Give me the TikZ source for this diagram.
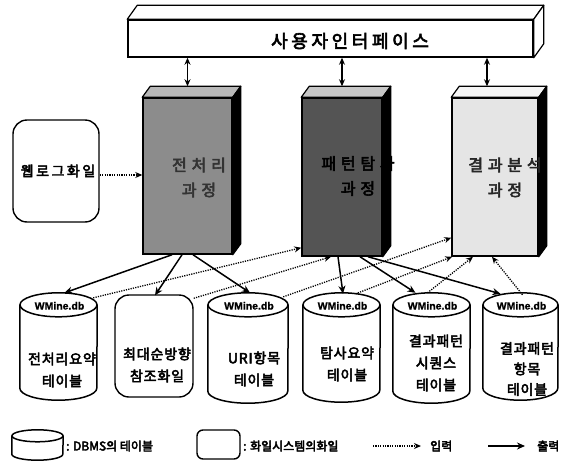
\documentclass[tikz,border=0pt]{standalone}
\usepackage{fontspec}
\setmainfont{Noto Sans CJK KR}[FakeBold=3.5]
\newfontfamily\dbfont{Liberation Sans}[FakeBold=1]
\usetikzlibrary{arrows.meta,calc}
\definecolor{fillA}{gray}{0.55}
\definecolor{fillB}{gray}{0.33}
\definecolor{fillC}{gray}{0.9}
\definecolor{topA}{gray}{0.72}
\definecolor{topB}{gray}{0.78}
\definecolor{topC}{gray}{0.96}

% cylinder: name, cx, cy, width, height, ellipse y-radius
\newcommand\mkcyl[6]{%
  \node[cylnode, minimum width=#4pt, minimum height=#5pt] (#1) at (#2,#3) {};
  \fill[white] ($(#1.north west)+(0,#6)$) -- ($(#1.south west)+(0,-#6)$)
     arc[start angle=180,end angle=0,x radius=#4/2,y radius=#6]
     -- ($(#1.north east)+(0,#6)$) -- cycle;
  \draw[cylline] ($(#1.north west)+(0,#6)$) -- ($(#1.south west)+(0,-#6)$)
     arc[start angle=180,end angle=0,x radius=#4/2,y radius=#6]
     -- ($(#1.north east)+(0,#6)$);
  \draw[cylline] ($(#1.north)+(0,#6)$) ellipse[x radius=#4/2,y radius=#6];
}
% 3D process box: name, cx, cy, width, height, front fill, top fill
\newcommand\mkbox[7]{%
  \node[procbox, fill=#6, minimum width=#4pt, minimum height=#5pt] (#1) at (#2,#3) {};
  \filldraw[boxedge, fill=#7] (#1.north west) -- ++(8,-11) -- ($(#1.north east)+(8,-11)$) -- (#1.north east) -- cycle;
  \filldraw[boxedge, fill=black] (#1.north east) -- ++(8,-11) -- ($(#1.south east)+(8,-11)$) -- (#1.south east) -- cycle;
}

\begin{document}
\begin{tikzpicture}[x=1pt,y=-1pt,
  procbox/.style={draw=black, line width=1.5pt, inner sep=0pt},
  boxedge/.style={draw=black, line width=1.2pt, line join=round},
  cylnode/.style={inner sep=0pt, draw=none},
  cylline/.style={draw=black, line width=1.5pt},
  filebox/.style={draw=black, line width=1.4pt, rounded corners=14pt, fill=white, inner sep=0pt},
  lbl/.style={align=center, inner sep=0pt, font=\fontsize{14}{22}\selectfont\addfontfeatures{LetterSpace=6}},
  boxlbl/.style={align=center, inner sep=0pt, font=\fontsize{16}{25}\selectfont\addfontfeatures{LetterSpace=30}},
  dblbl/.style={inner sep=0pt, font=\dbfont\bfseries\fontsize{10.5}{12}\selectfont},
  outarrow/.style={line width=1.5pt, -{Stealth[length=8pt,width=7pt]}},
  inarrow/.style={line width=1.3pt, dash pattern=on 1.2pt off 1.2pt, -{Stealth[length=7pt,width=6pt]}},
  biarrow/.style={line width=1.4pt, {Stealth[length=7pt,width=6pt]}-{Stealth[length=7pt,width=6pt]}},
  legtext/.style={anchor=west, inner sep=0pt, font=\fontsize{12}{14}\selectfont}
]
\useasboundingbox (0,0) rectangle (574,469);

% user interface bar
\node[procbox, fill=white, minimum width=405pt, minimum height=37pt] (ui) at (330.5,38.5) {};
\filldraw[boxedge, fill=white] (ui.north west) -- ++(10,-14) -- ($(ui.north east)+(10,-14)$) -- (ui.north east) -- cycle;
\filldraw[boxedge, fill=white] (ui.north east) -- ++(10,-14) -- ($(ui.south east)+(10,-14)$) -- (ui.south east) -- cycle;
\node[font=\fontsize{18}{20}\selectfont\addfontfeatures{LetterSpace=20}] (uit) at (350,41) {사용자인터페이스};

% process boxes
\mkbox{b1}{187.5}{176}{89}{156}{fillA}{topA}
\mkbox{b2}{342}{177}{80}{158}{fillB}{topB}
\mkbox{b3}{495}{177}{86}{158}{fillC}{topC}
\node[boxlbl, text=black!80] (b1t) at (199,177.5) {전처리\\과정};
\node[boxlbl, text=black] (b2t) at (358,176) {패턴탐사\\과정};
\node[boxlbl, text=black!85] (b3t) at (505,177.5) {결과분석\\과정};

% bar <-> boxes
\draw[biarrow] ($(b1.north)+(0,-11)$) -- (ui.south -| b1.north);
\draw[biarrow] ($(b2.north)+(0,-11)$) -- (ui.south -| b2.north);
\draw[biarrow] ($(b3.north)+(-8,-11)$) -- ($(ui.south -| b3.north)+(-8,0)$);

% web log file
\node[filebox, minimum width=86pt, minimum height=102pt] (wl) at (56,171) {};
\node[font=\fontsize{14}{16}\selectfont\addfontfeatures{LetterSpace=18}] (wlt) at (58,171) {웹로그화일};
\draw[inarrow] ($(wl.east)+(0,4)$) -- ($(wl.east -| b1.west)+(0,4)$);

% tables and files
\mkcyl{c1}{58.5}{346.5}{77}{107}{12}
\node[filebox, minimum width=78pt, minimum height=102pt] (r2) at (154,346) {};
\mkcyl{c3}{248}{348}{80}{110}{12}
\mkcyl{c4}{341.5}{347.5}{77}{109}{12}
\mkcyl{c5}{431.5}{348}{77}{110}{12}
\mkcyl{c6}{520.5}{346.5}{75}{107}{12}

\node[dblbl] (c1d) at ($(c1.north)+(1,13)$) {WMine.db};
\node[dblbl] (c3d) at ($(c3.north)+(1,13)$) {WMine.db};
\node[dblbl] (c4d) at ($(c4.north)+(1,13)$) {WMine.db};
\node[dblbl] (c5d) at ($(c5.north)+(1,13)$) {WMine.db};
\node[dblbl] (c6d) at ($(c6.north)+(1,13)$) {WMine.db};

\node[lbl] (c1t) at (62,370) {전처리요약\\테이블};
\node[lbl] (r2t) at (157,365) {최대순방향\\참조화일};
\node[lbl] (c3t) at (254,369) {URI항목\\테이블};
\node[lbl] (c4t) at (347,364) {탐사요약\\테이블};
\node[lbl] (c5t) at (436,363) {결과패턴\\시퀀스\\테이블};
\node[lbl, font=\fontsize{14}{20.5}\selectfont\addfontfeatures{LetterSpace=6}] (c6t) at (527,369) {결과패턴\\항목\\테이블};

% outputs
\draw[outarrow] ($(b1.south)+(-15.5,0)$) -- ($(c1.north)+(6,0)$);
\draw[outarrow] ($(b1.south)+(-5.5,0)$) -- ($(r2.north)+(1,1)$);
\draw[outarrow] ($(b1.south)+(5.5,0)$) -- ($(c3.north)+(2,0)$);
\draw[outarrow] ($(b2.south)+(-4,0)$) -- ($(c4.north)+(1.5,1)$);
\draw[outarrow] ($(b2.south)+(18,0)$) -- ($(c5.north)+(-16,0)$);
\draw[outarrow] ($(b2.south)+(26,0)$) -- ($(c6.north)+(-20,1)$);

% inputs
\draw[inarrow] ($(c1.north east)+(-4,5)$) -- ($(b2.south west)+(0,-9)$);
\draw[inarrow] ($(r2.north east)+(0,4)$) -- ($(b2.south)+(-11,0)$);
\draw[inarrow] ($(c3.north east)+(-5,4)$) -- ($(b3.south west)+(0,-19)$);
\draw[inarrow] ($(c4.north)+(14,1)$) -- ($(b3.south west)+(1,0)$);
\draw[inarrow] ($(c5.north)+(-4,0)$) -- ($(b3.south)+(-22,0)$);
\draw[inarrow] ($(c6.north)+(2,2)$) -- ($(b3.south)+(-3,0)$);

% legend
\mkcyl{lc}{37.5}{445}{51}{30}{6}
\node[legtext] (lct) at (66,446) {: DBMS의 테이블};
\node[filebox, rounded corners=6pt, minimum width=43pt, minimum height=29pt] (lr) at (218.5,444.5) {};
\node[legtext] (lrt) at (243,446) {: 화일시스템의화일};
\coordinate (li1) at (373,446);
\coordinate (li2) at (421,446);
\draw[inarrow] (li1) -- (li2);
\node[legtext] (lit) at (430,446) {입력};
\coordinate (lo1) at (488,446);
\coordinate (lo2) at (525,446);
\draw[outarrow] (lo1) -- (lo2);
\node[legtext] (lot) at (537,446) {출력};
\end{tikzpicture}
\end{document}
